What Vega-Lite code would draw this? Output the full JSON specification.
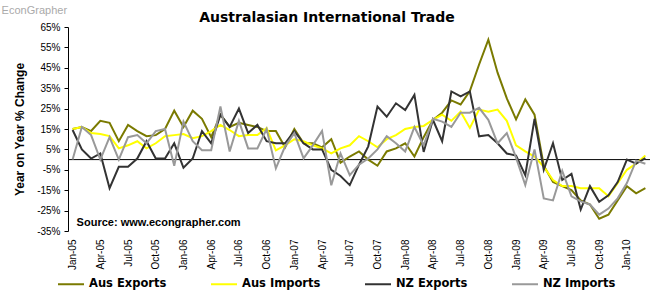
{
"$schema": "https://vega.github.io/schema/vega-lite/v6.json",
"width": 582, "height": 204,
"autosize": {"type": "none"},
"padding": {"left": 68, "top": 27, "right": 5, "bottom": 68},
"background": "white",
"config": {"view": {"stroke": null}, "font": "Liberation Sans", "axis": {"labelOverlap": false, "labelBound": false, "labelFlush": false}},
"title": {"text": "Australasian International Trade", "font": "DejaVu Sans", "fontSize": 14, "fontWeight": "bold", "anchor": "middle", "frame": "group", "dx": -32, "dy": 26, "offset": 6, "color": "black"},
"datasets": {
"trade": [
{"m":"Jan-05","s":"Aus Exports","v":15},{"m":"Feb-05","s":"Aus Exports","v":16},{"m":"Mar-05","s":"Aus Exports","v":14},{"m":"Apr-05","s":"Aus Exports","v":19},{"m":"May-05","s":"Aus Exports","v":18},{"m":"Jun-05","s":"Aus Exports","v":9},{"m":"Jul-05","s":"Aus Exports","v":17},{"m":"Aug-05","s":"Aus Exports","v":14},{"m":"Sep-05","s":"Aus Exports","v":11.5},{"m":"Oct-05","s":"Aus Exports","v":12},{"m":"Nov-05","s":"Aus Exports","v":15},{"m":"Dec-05","s":"Aus Exports","v":24},
{"m":"Jan-06","s":"Aus Exports","v":16},{"m":"Feb-06","s":"Aus Exports","v":24},{"m":"Mar-06","s":"Aus Exports","v":20},{"m":"Apr-06","s":"Aus Exports","v":11},{"m":"May-06","s":"Aus Exports","v":22},{"m":"Jun-06","s":"Aus Exports","v":16},{"m":"Jul-06","s":"Aus Exports","v":18},{"m":"Aug-06","s":"Aus Exports","v":17},{"m":"Sep-06","s":"Aus Exports","v":16},{"m":"Oct-06","s":"Aus Exports","v":14},{"m":"Nov-06","s":"Aus Exports","v":14},{"m":"Dec-06","s":"Aus Exports","v":6},
{"m":"Jan-07","s":"Aus Exports","v":15},{"m":"Feb-07","s":"Aus Exports","v":8},{"m":"Mar-07","s":"Aus Exports","v":8},{"m":"Apr-07","s":"Aus Exports","v":6},{"m":"May-07","s":"Aus Exports","v":10},{"m":"Jun-07","s":"Aus Exports","v":-1.5},{"m":"Jul-07","s":"Aus Exports","v":1.5},{"m":"Aug-07","s":"Aus Exports","v":4},{"m":"Sep-07","s":"Aus Exports","v":0},{"m":"Oct-07","s":"Aus Exports","v":-3},{"m":"Nov-07","s":"Aus Exports","v":4},{"m":"Dec-07","s":"Aus Exports","v":5.5},
{"m":"Jan-08","s":"Aus Exports","v":8},{"m":"Feb-08","s":"Aus Exports","v":1.5},{"m":"Mar-08","s":"Aus Exports","v":11},{"m":"Apr-08","s":"Aus Exports","v":19.5},{"m":"May-08","s":"Aus Exports","v":23},{"m":"Jun-08","s":"Aus Exports","v":29},{"m":"Jul-08","s":"Aus Exports","v":27},{"m":"Aug-08","s":"Aus Exports","v":33.6},{"m":"Sep-08","s":"Aus Exports","v":46.6},{"m":"Oct-08","s":"Aus Exports","v":58.8},{"m":"Nov-08","s":"Aus Exports","v":42.6},{"m":"Dec-08","s":"Aus Exports","v":30},
{"m":"Jan-09","s":"Aus Exports","v":19.7},{"m":"Feb-09","s":"Aus Exports","v":29.5},{"m":"Mar-09","s":"Aus Exports","v":22},{"m":"Apr-09","s":"Aus Exports","v":-3},{"m":"May-09","s":"Aus Exports","v":-11},{"m":"Jun-09","s":"Aus Exports","v":-13},{"m":"Jul-09","s":"Aus Exports","v":-15},{"m":"Aug-09","s":"Aus Exports","v":-20},{"m":"Sep-09","s":"Aus Exports","v":-22},{"m":"Oct-09","s":"Aus Exports","v":-29},{"m":"Nov-09","s":"Aus Exports","v":-27},{"m":"Dec-09","s":"Aus Exports","v":-20},
{"m":"Jan-10","s":"Aus Exports","v":-13},{"m":"Feb-10","s":"Aus Exports","v":-16.5},{"m":"Mar-10","s":"Aus Exports","v":-14},

{"m":"Jan-05","s":"Aus Imports","v":15},{"m":"Feb-05","s":"Aus Imports","v":16},{"m":"Mar-05","s":"Aus Imports","v":13},{"m":"Apr-05","s":"Aus Imports","v":12.5},{"m":"May-05","s":"Aus Imports","v":11.5},{"m":"Jun-05","s":"Aus Imports","v":5.5},{"m":"Jul-05","s":"Aus Imports","v":7},{"m":"Aug-05","s":"Aus Imports","v":9},{"m":"Sep-05","s":"Aus Imports","v":5.5},{"m":"Oct-05","s":"Aus Imports","v":8},{"m":"Nov-05","s":"Aus Imports","v":11.5},{"m":"Dec-05","s":"Aus Imports","v":12},
{"m":"Jan-06","s":"Aus Imports","v":12.5},{"m":"Feb-06","s":"Aus Imports","v":10.5},{"m":"Mar-06","s":"Aus Imports","v":11.5},{"m":"Apr-06","s":"Aus Imports","v":14},{"m":"May-06","s":"Aus Imports","v":17},{"m":"Jun-06","s":"Aus Imports","v":14.5},{"m":"Jul-06","s":"Aus Imports","v":11.5},{"m":"Aug-06","s":"Aus Imports","v":12},{"m":"Sep-06","s":"Aus Imports","v":12},{"m":"Oct-06","s":"Aus Imports","v":15.5},{"m":"Nov-06","s":"Aus Imports","v":4.5},{"m":"Dec-06","s":"Aus Imports","v":7},
{"m":"Jan-07","s":"Aus Imports","v":10},{"m":"Feb-07","s":"Aus Imports","v":9},{"m":"Mar-07","s":"Aus Imports","v":7},{"m":"Apr-07","s":"Aus Imports","v":5.5},{"m":"May-07","s":"Aus Imports","v":3},{"m":"Jun-07","s":"Aus Imports","v":5.5},{"m":"Jul-07","s":"Aus Imports","v":7},{"m":"Aug-07","s":"Aus Imports","v":11.5},{"m":"Sep-07","s":"Aus Imports","v":9},{"m":"Oct-07","s":"Aus Imports","v":6},{"m":"Nov-07","s":"Aus Imports","v":10},{"m":"Dec-07","s":"Aus Imports","v":12},
{"m":"Jan-08","s":"Aus Imports","v":15},{"m":"Feb-08","s":"Aus Imports","v":16},{"m":"Mar-08","s":"Aus Imports","v":16.5},{"m":"Apr-08","s":"Aus Imports","v":19.5},{"m":"May-08","s":"Aus Imports","v":22},{"m":"Jun-08","s":"Aus Imports","v":19},{"m":"Jul-08","s":"Aus Imports","v":23.5},{"m":"Aug-08","s":"Aus Imports","v":15.5},{"m":"Sep-08","s":"Aus Imports","v":24.5},{"m":"Oct-08","s":"Aus Imports","v":23.5},{"m":"Nov-08","s":"Aus Imports","v":24.5},{"m":"Dec-08","s":"Aus Imports","v":19},
{"m":"Jan-09","s":"Aus Imports","v":7},{"m":"Feb-09","s":"Aus Imports","v":4},{"m":"Mar-09","s":"Aus Imports","v":1.5},{"m":"Apr-09","s":"Aus Imports","v":-3.5},{"m":"May-09","s":"Aus Imports","v":-10},{"m":"Jun-09","s":"Aus Imports","v":-13},{"m":"Jul-09","s":"Aus Imports","v":-13},{"m":"Aug-09","s":"Aus Imports","v":-14},{"m":"Sep-09","s":"Aus Imports","v":-14},{"m":"Oct-09","s":"Aus Imports","v":-14},{"m":"Nov-09","s":"Aus Imports","v":-18},{"m":"Dec-09","s":"Aus Imports","v":-11.5},
{"m":"Jan-10","s":"Aus Imports","v":-5},{"m":"Feb-10","s":"Aus Imports","v":-2},{"m":"Mar-10","s":"Aus Imports","v":2},

{"m":"Jan-05","s":"NZ Exports","v":14.5},{"m":"Feb-05","s":"NZ Exports","v":5},{"m":"Mar-05","s":"NZ Exports","v":0.5},{"m":"Apr-05","s":"NZ Exports","v":3},{"m":"May-05","s":"NZ Exports","v":-14},{"m":"Jun-05","s":"NZ Exports","v":-3.5},{"m":"Jul-05","s":"NZ Exports","v":-3.5},{"m":"Aug-05","s":"NZ Exports","v":0.5},{"m":"Sep-05","s":"NZ Exports","v":9},{"m":"Oct-05","s":"NZ Exports","v":0.5},{"m":"Nov-05","s":"NZ Exports","v":0.5},{"m":"Dec-05","s":"NZ Exports","v":8},
{"m":"Jan-06","s":"NZ Exports","v":-4},{"m":"Feb-06","s":"NZ Exports","v":0.5},{"m":"Mar-06","s":"NZ Exports","v":14},{"m":"Apr-06","s":"NZ Exports","v":8},{"m":"May-06","s":"NZ Exports","v":22},{"m":"Jun-06","s":"NZ Exports","v":16},{"m":"Jul-06","s":"NZ Exports","v":25},{"m":"Aug-06","s":"NZ Exports","v":13},{"m":"Sep-06","s":"NZ Exports","v":17},{"m":"Oct-06","s":"NZ Exports","v":9},{"m":"Nov-06","s":"NZ Exports","v":8},{"m":"Dec-06","s":"NZ Exports","v":8},
{"m":"Jan-07","s":"NZ Exports","v":14},{"m":"Feb-07","s":"NZ Exports","v":8},{"m":"Mar-07","s":"NZ Exports","v":5},{"m":"Apr-07","s":"NZ Exports","v":5},{"m":"May-07","s":"NZ Exports","v":-5},{"m":"Jun-07","s":"NZ Exports","v":-8},{"m":"Jul-07","s":"NZ Exports","v":-12.5},{"m":"Aug-07","s":"NZ Exports","v":-2.5},{"m":"Sep-07","s":"NZ Exports","v":6.5},{"m":"Oct-07","s":"NZ Exports","v":26},{"m":"Nov-07","s":"NZ Exports","v":21},{"m":"Dec-07","s":"NZ Exports","v":27.6},
{"m":"Jan-08","s":"NZ Exports","v":24.3},{"m":"Feb-08","s":"NZ Exports","v":31.7},{"m":"Mar-08","s":"NZ Exports","v":3.8},{"m":"Apr-08","s":"NZ Exports","v":19.5},{"m":"May-08","s":"NZ Exports","v":9},{"m":"Jun-08","s":"NZ Exports","v":33.4},{"m":"Jul-08","s":"NZ Exports","v":31},{"m":"Aug-08","s":"NZ Exports","v":33.4},{"m":"Sep-08","s":"NZ Exports","v":11.4},{"m":"Oct-08","s":"NZ Exports","v":12},{"m":"Nov-08","s":"NZ Exports","v":8},{"m":"Dec-08","s":"NZ Exports","v":3},
{"m":"Jan-09","s":"NZ Exports","v":2},{"m":"Feb-09","s":"NZ Exports","v":-7.6},{"m":"Mar-09","s":"NZ Exports","v":20},{"m":"Apr-09","s":"NZ Exports","v":-5},{"m":"May-09","s":"NZ Exports","v":8},{"m":"Jun-09","s":"NZ Exports","v":-10},{"m":"Jul-09","s":"NZ Exports","v":-7},{"m":"Aug-09","s":"NZ Exports","v":-24.5},{"m":"Sep-09","s":"NZ Exports","v":-13},{"m":"Oct-09","s":"NZ Exports","v":-20.7},{"m":"Nov-09","s":"NZ Exports","v":-17.5},{"m":"Dec-09","s":"NZ Exports","v":-11},
{"m":"Jan-10","s":"NZ Exports","v":0},{"m":"Feb-10","s":"NZ Exports","v":-2},{"m":"Mar-10","s":"NZ Exports","v":0.7},

{"m":"Jan-05","s":"NZ Imports","v":0},{"m":"Feb-05","s":"NZ Imports","v":16},{"m":"Mar-05","s":"NZ Imports","v":12},{"m":"Apr-05","s":"NZ Imports","v":0},{"m":"May-05","s":"NZ Imports","v":11},{"m":"Jun-05","s":"NZ Imports","v":0},{"m":"Jul-05","s":"NZ Imports","v":11},{"m":"Aug-05","s":"NZ Imports","v":12},{"m":"Sep-05","s":"NZ Imports","v":8},{"m":"Oct-05","s":"NZ Imports","v":14},{"m":"Nov-05","s":"NZ Imports","v":15},{"m":"Dec-05","s":"NZ Imports","v":-3},
{"m":"Jan-06","s":"NZ Imports","v":18.6},{"m":"Feb-06","s":"NZ Imports","v":9},{"m":"Mar-06","s":"NZ Imports","v":4.6},{"m":"Apr-06","s":"NZ Imports","v":4.6},{"m":"May-06","s":"NZ Imports","v":26},{"m":"Jun-06","s":"NZ Imports","v":4},{"m":"Jul-06","s":"NZ Imports","v":19},{"m":"Aug-06","s":"NZ Imports","v":5.5},{"m":"Sep-06","s":"NZ Imports","v":5.5},{"m":"Oct-06","s":"NZ Imports","v":15},{"m":"Nov-06","s":"NZ Imports","v":-4.3},{"m":"Dec-06","s":"NZ Imports","v":6.5},
{"m":"Jan-07","s":"NZ Imports","v":13},{"m":"Feb-07","s":"NZ Imports","v":0.6},{"m":"Mar-07","s":"NZ Imports","v":7},{"m":"Apr-07","s":"NZ Imports","v":14},{"m":"May-07","s":"NZ Imports","v":-12.6},{"m":"Jun-07","s":"NZ Imports","v":3},{"m":"Jul-07","s":"NZ Imports","v":-7.6},{"m":"Aug-07","s":"NZ Imports","v":-2.5},{"m":"Sep-07","s":"NZ Imports","v":0.5},{"m":"Oct-07","s":"NZ Imports","v":5},{"m":"Nov-07","s":"NZ Imports","v":11.5},{"m":"Dec-07","s":"NZ Imports","v":8},
{"m":"Jan-08","s":"NZ Imports","v":4},{"m":"Feb-08","s":"NZ Imports","v":16},{"m":"Mar-08","s":"NZ Imports","v":7},{"m":"Apr-08","s":"NZ Imports","v":20},{"m":"May-08","s":"NZ Imports","v":18.6},{"m":"Jun-08","s":"NZ Imports","v":16},{"m":"Jul-08","s":"NZ Imports","v":23},{"m":"Aug-08","s":"NZ Imports","v":23},{"m":"Sep-08","s":"NZ Imports","v":25.4},{"m":"Oct-08","s":"NZ Imports","v":19.5},{"m":"Nov-08","s":"NZ Imports","v":8},{"m":"Dec-08","s":"NZ Imports","v":13},
{"m":"Jan-09","s":"NZ Imports","v":1},{"m":"Feb-09","s":"NZ Imports","v":-12.5},{"m":"Mar-09","s":"NZ Imports","v":5},{"m":"Apr-09","s":"NZ Imports","v":-19},{"m":"May-09","s":"NZ Imports","v":-20},{"m":"Jun-09","s":"NZ Imports","v":-5.5},{"m":"Jul-09","s":"NZ Imports","v":-18},{"m":"Aug-09","s":"NZ Imports","v":-20.5},{"m":"Sep-09","s":"NZ Imports","v":-22},{"m":"Oct-09","s":"NZ Imports","v":-27},{"m":"Nov-09","s":"NZ Imports","v":-24},{"m":"Dec-09","s":"NZ Imports","v":-19},
{"m":"Jan-10","s":"NZ Imports","v":-11.5},{"m":"Feb-10","s":"NZ Imports","v":-0.5},{"m":"Mar-10","s":"NZ Imports","v":-2}
],
"one": [{"k": 1}]
},
"layer": [
{"data": {"name": "one"}, "mark": {"type": "rule", "color": "black", "strokeWidth": 1}, "encoding": {"y": {"datum": 0, "type": "quantitative"}}},
{"data": {"name": "trade"},
 "mark": {"type": "line", "strokeWidth": 2},
 "encoding": {
  "x": {"field": "m", "type": "ordinal", "sort": null,
   "scale": {"type": "point", "padding": 0.5, "domain": ["Jan-05","Feb-05","Mar-05","Apr-05","May-05","Jun-05","Jul-05","Aug-05","Sep-05","Oct-05","Nov-05","Dec-05","Jan-06","Feb-06","Mar-06","Apr-06","May-06","Jun-06","Jul-06","Aug-06","Sep-06","Oct-06","Nov-06","Dec-06","Jan-07","Feb-07","Mar-07","Apr-07","May-07","Jun-07","Jul-07","Aug-07","Sep-07","Oct-07","Nov-07","Dec-07","Jan-08","Feb-08","Mar-08","Apr-08","May-08","Jun-08","Jul-08","Aug-08","Sep-08","Oct-08","Nov-08","Dec-08","Jan-09","Feb-09","Mar-09","Apr-09","May-09","Jun-09","Jul-09","Aug-09","Sep-09","Oct-09","Nov-09","Dec-09","Jan-10","Feb-10","Mar-10"]},
   "axis": {"values": ["Jan-05","Apr-05","Jul-05","Oct-05","Jan-06","Apr-06","Jul-06","Oct-06","Jan-07","Apr-07","Jul-07","Oct-07","Jan-08","Apr-08","Jul-08","Oct-08","Jan-09","Apr-09","Jul-09","Oct-09","Jan-10"],
    "labelAngle": -90, "labelAlign": "right", "labelBaseline": "middle", "ticks": false, "domain": false, "grid": false, "labelOverlap": false,
    "labelFont": "Liberation Sans", "labelFontSize": 10, "labelColor": "black", "labelPadding": 8, "title": null}},
  "y": {"field": "v", "type": "quantitative",
   "scale": {"domain": [-35, 65], "nice": false, "zero": false},
   "axis": {"values": [-35,-25,-15,-5,5,15,25,35,45,55,65], "tickCount": 20, "labelExpr": "datum.value + '%'", "grid": false, "labelOverlap": false,
    "domainColor": "black", "tickColor": "black", "tickSize": 4, "labelFont": "Liberation Sans", "labelFontSize": 10, "labelColor": "black", "labelPadding": 4,
    "title": "Year on Year % Change", "titleFont": "Liberation Sans", "titleFontSize": 12, "titleFontWeight": "bold", "titleColor": "black", "titlePadding": 10}},
  "color": {"field": "s", "type": "nominal",
   "scale": {"domain": ["Aus Exports","Aus Imports","NZ Exports","NZ Imports"], "range": ["#7a7a00","#ffff00","#333333","#999999"]},
   "legend": {"orient": "none", "legendX": -11, "legendY": 243, "direction": "horizontal", "columns": 4, "title": null,
    "symbolType": "stroke", "symbolSize": 676, "symbolStrokeWidth": 2, "labelFont": "DejaVu Sans", "labelFontSize": 11.5, "labelFontWeight": "bold", "labelColor": "black",
    "columnPadding": 40, "gridAlign": "each", "labelOffset": 4, "labelLimit": 200, "padding": 0}}
 }},
{"data": {"name": "one"}, "mark": {"type": "text", "text": "Source: www.econgrapher.com", "font": "Liberation Sans", "fontSize": 11, "fontWeight": "bold", "align": "left", "baseline": "alphabetic", "dx": 4, "dy": -5, "color": "black"},
 "encoding": {"x": {"datum": "Jan-05", "type": "ordinal"}, "y": {"datum": -35, "type": "quantitative"}}},
{"data": {"name": "one"}, "mark": {"type": "text", "text": "EconGrapher", "font": "Liberation Sans", "fontSize": 11, "align": "left", "baseline": "alphabetic", "dx": -71, "dy": -13, "color": "#aaaaaa"},
 "encoding": {"x": {"datum": "Jan-05", "type": "ordinal"}, "y": {"datum": 65, "type": "quantitative"}}}
]
}
